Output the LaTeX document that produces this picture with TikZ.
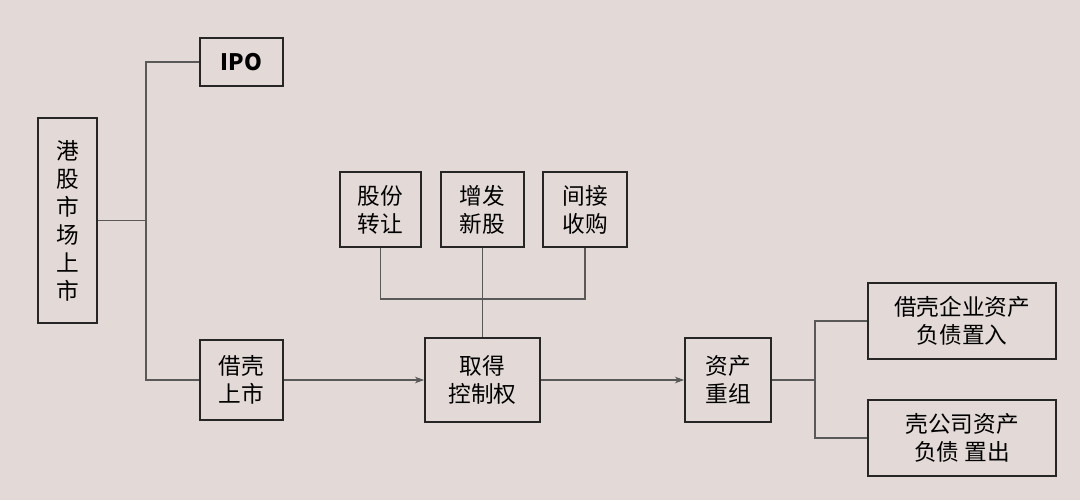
\documentclass[tikz,border=0pt]{standalone}
\usepackage{fontspec}
\setmainfont{Noto Sans CJK SC}
\usetikzlibrary{arrows.meta}
\begin{document}
\begin{tikzpicture}[x=0.75pt,y=-0.75pt,
 bx/.style={draw=black!85,line width=1.3pt,fill=none,align=center,font=\fontsize{17}{21}\selectfont,inner sep=0pt},
 ln/.style={draw=black!65,line width=0.8pt},
 ar/.style={ln,-{Stealth[length=7pt,width=5pt]}}]
\fill[fill={rgb,255:red,227;green,218;blue,216}] (0,0) rectangle (1080,500);
\useasboundingbox (0,0) rectangle (1080,500);
\node[bx,minimum width=44.25pt,minimum height=153.75pt] (hk) at (67.5,220.5) {港\\股\\市\\场\\上\\市};
\node[bx,minimum width=62.25pt,minimum height=36pt,font=\bfseries\fontsize{17}{21}\selectfont] (ipo) at (241.5,62) {IPO};
\node[bx,minimum width=62.25pt,minimum height=60pt] (jk) at (241.5,380) {借壳\\上市};
\node[bx,minimum width=60.75pt,minimum height=56.25pt] (g1) at (380.5,209.5) {股份\\转让};
\node[bx,minimum width=62.25pt,minimum height=56.25pt] (g2) at (482.5,209.5) {增发\\新股};
\node[bx,minimum width=63pt,minimum height=56.25pt] (g3) at (585,209.5) {间接\\收购};
\node[bx,minimum width=86.25pt,minimum height=63pt] (qd) at (482.5,380) {取得\\控制权};
\node[bx,minimum width=64.5pt,minimum height=63pt] (zc) at (728,380) {资产\\重组};
\node[bx,minimum width=141pt,minimum height=57pt] (r1) at (962,321) {借壳企业资产\\负债置入};
\node[bx,minimum width=141pt,minimum height=57pt] (r2) at (962,438) {壳公司资产\\负债 置出};
\coordinate (a) at (146,220.5);
\draw[ln] (hk.east) -- (a);
\draw[ln] (ipo.west) -| (a) |- (jk.west);
\coordinate (m) at (482.5,299);
\draw[ln] (g1.south) |- (m) -| (g3.south);
\draw[ln] (g2.south) -- (qd.north);
\draw[ar] (jk.east) -- (qd.west);
\draw[ar] (qd.east) -- (zc.west);
\coordinate (b) at (815,380);
\draw[ln] (zc.east) -- (b);
\draw[ln] (r1.west) -| (b) |- (r2.west);
\end{tikzpicture}
\end{document}
